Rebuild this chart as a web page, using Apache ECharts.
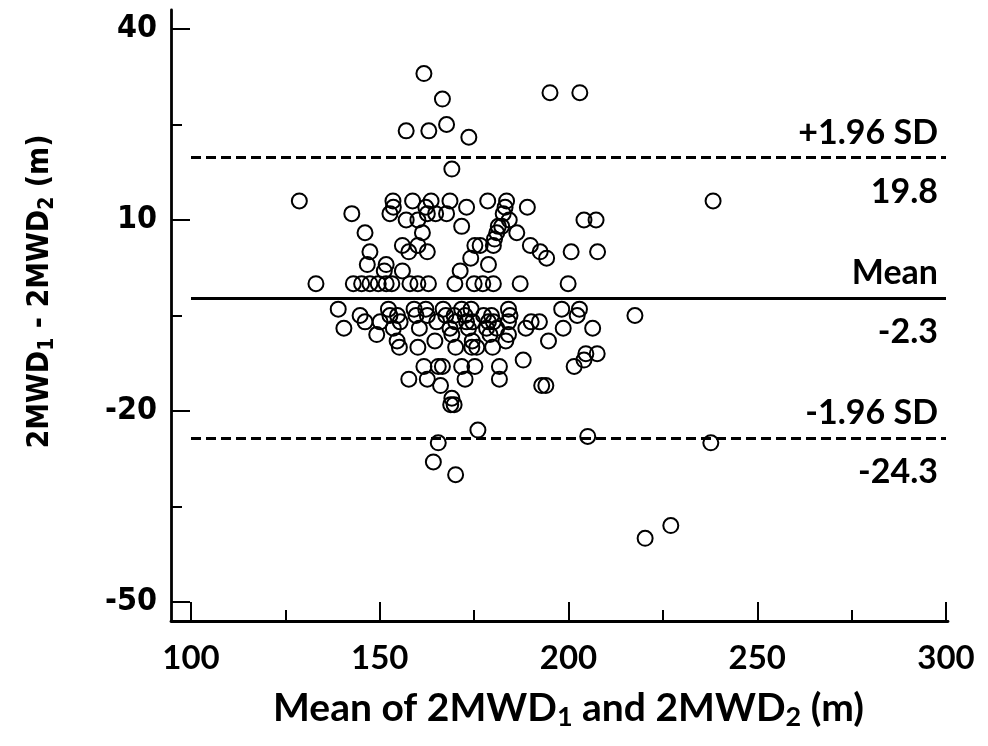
<!DOCTYPE html>
<html>
<head>
<meta charset="utf-8">
<script src="https://cdn.jsdelivr.net/npm/echarts@6/dist/echarts.min.js"></script>
<style>
html,body{margin:0;padding:0;background:#fff;}
#chart{width:988px;height:746px;}
</style>
</head>
<body>
<div id="chart"></div>
<script>
// Mean of the two walks (x) and their difference (y)
const meanVals = [
161.7,166.6,167.7,157.0,163.0,173.6,169.1,195.1,203.0,128.7,238.3,
153.5,158.7,163.6,168.6,173.0,153.6,152.7,162.2,162.6,164.8,167.7,142.6,157.0,160.1,171.7,
146.1,161.3,156.0,160.1,175.2,147.4,157.7,162.6,151.7,174.1,146.7,151.2,156.0,171.3,
178.6,183.6,183.2,182.7,189.1,184.3,182.3,181.4,186.3,181.0,180.4,204.1,207.3,180.1,176.6,
189.9,192.5,194.2,200.7,207.7,178.8,
133.1,143.0,145.2,147.4,149.6,151.7,153.2,158.0,160.1,162.9,169.9,175.0,177.3,180.1,187.2,199.9,
139.0,140.5,144.8,146.1,149.2,150.1,152.3,152.7,154.7,153.6,155.4,154.6,155.2,159.1,159.6,
162.2,162.6,160.5,160.1,165.1,164.6,166.8,167.5,169.7,168.6,170.1,169.1,171.7,174.2,172.6,
173.0,173.5,174.6,174.5,170.1,174.4,175.7,161.7,165.5,166.6,171.7,175.2,157.7,162.6,172.6,
166.1,169.1,168.8,169.7,176.0,165.5,164.2,170.1,177.5,179.6,178.8,180.1,178.3,181.0,179.2,
184.1,184.5,184.1,184.1,183.4,179.9,181.7,181.7,188.7,190.1,192.3,194.7,188.0,198.2,198.6,
202.9,202.3,206.4,217.6,204.6,207.6,204.1,201.5,192.9,194.0,205.1,237.7,220.3,227.1
];
const diffVals = [
33,29,25,24,24,23,18,30,30,13,13,
13,13,13,13,12,12,11,12,11,11,11,11,10,10,9,
8,8,6,6,6,5,5,5,3,4,3,2,2,2,
13,13,12,11,12,10,9,9,8,8,7,10,10,6,6,
6,5,4,5,5,3,
0,0,0,0,0,0,0,0,0,0,0,0,0,0,0,0,
-4,-7,-5,-6,-8,-6,-4,-5,-5,-7,-6,-9,-10,-4,-5,
-4,-5,-7,-10,-6,-9,-4,-5,-5,-7,-6,-8,-4,-4,-5,
-6,-7,-6,-9,-10,-10,-10,-13,-13,-13,-13,-13,-15,-15,-15,
-16,-18,-19,-19,-23,-25,-28,-30,-5,-5,-6,-6,-7,-7,-8,
-4,-5,-6,-8,-9,-10,-13,-15,-7,-6,-6,-9,-12,-4,-7,
-4,-5,-7,-5,-11,-11,-12,-13,-16,-16,-24,-25,-40,-38
];
// Bland-Altman reference lines
const lineNames = ['+1.96 SD', 'Mean', '-1.96 SD'];
const lineValues = [19.8, -2.3, -24.3];
// Axis ticks
const xTicks = [100, 150, 200, 250, 300];
const xMinorTicks = [125, 175, 225, 275];
const yTicks = [-50, -20, 10, 40];
const yMinorTicks = [-35, -5, 25];

const points = meanVals.map((m, i) => [m, diffVals[i]]);

const black = '#000';
const tickStyle = {color: black, width: 2};
const latoBold = {fontFamily: 'Lato', fontWeight: 'bold', color: black};
const condBold = {fontFamily: '"DejaVu Sans Condensed", "DejaVu Sans"', fontWeight: 'bold', color: black};

const lineStyles = [
  {type: [10, 5], width: 2.8, color: black},
  {type: 'solid', width: 3, color: black},
  {type: [10, 5], width: 2.8, color: black}
];
const markData = [];
lineValues.forEach((v, i) => {
  const ls = lineStyles[i];
  markData.push({yAxis: v, lineStyle: ls,
    label: {formatter: lineNames[i], position: 'insideEndTop', distance: [8, 8]}});
  markData.push({yAxis: v, lineStyle: ls,
    label: {formatter: String(v), position: 'insideEndBottom', distance: [8, 17]}});
});

const chart = echarts.init(document.getElementById('chart'), null, {renderer: 'canvas'});
chart.setOption({
  animation: false,
  backgroundColor: '#fff',
  grid: [
    {left: 191, right: 42, top: 29, bottom: 144},
    {left: 171, right: 40, top: 10, bottom: 125}
  ],
  xAxis: [
    {
      gridIndex: 0, type: 'value', min: 100, max: 300, position: 'bottom', offset: 19,
      axisLine: {show: false, onZero: false}, splitLine: {show: false},
      axisTick: {show: true, inside: true, length: 19, customValues: xTicks, lineStyle: tickStyle},
      axisLabel: Object.assign({customValues: xTicks, margin: 21, fontSize: 33}, latoBold),
      name: '{t|Mean of 2MWD}{s|1}{t| and 2MWD}{s|2}{t| (m)}',
      nameLocation: 'middle', nameGap: 64,
      nameTextStyle: {
        rich: {
          t: Object.assign({fontSize: 39, lineHeight: 46}, latoBold),
          s: Object.assign({fontSize: 27, lineHeight: 20, verticalAlign: 'bottom'}, latoBold)
        }
      }
    },
    {
      gridIndex: 0, type: 'value', min: 100, max: 300, position: 'bottom', offset: 19,
      axisLine: {show: false, onZero: false}, splitLine: {show: false},
      axisTick: {show: true, inside: true, length: 11, customValues: xMinorTicks, lineStyle: tickStyle},
      axisLabel: {show: false}
    },
    {
      gridIndex: 1, type: 'value', min: 0, max: 1, position: 'bottom',
      axisLine: {show: true, onZero: false, lineStyle: {color: black, width: 2.8}},
      axisTick: {show: false}, axisLabel: {show: false}, splitLine: {show: false}
    }
  ],
  yAxis: [
    {
      gridIndex: 0, type: 'value', min: -50, max: 40, position: 'left', offset: 20,
      axisLine: {show: false, onZero: false}, splitLine: {show: false},
      axisTick: {show: true, inside: true, length: 19, customValues: yTicks, lineStyle: tickStyle},
      axisLabel: Object.assign({customValues: yTicks, margin: 14, fontSize: 32}, condBold),
      name: '{t|2MWD}{s|1}{t| - 2MWD}{s|2}{t| (m)}',
      nameLocation: 'middle', nameRotate: 90, nameGap: 113,
      nameTextStyle: {
        padding: [0, 0, 0, 48],
        rich: {
          t: Object.assign({fontSize: 30, lineHeight: 36}, condBold),
          s: Object.assign({fontSize: 21, lineHeight: 15, verticalAlign: 'bottom'}, condBold)
        }
      }
    },
    {
      gridIndex: 0, type: 'value', min: -50, max: 40, position: 'left', offset: 20,
      axisLine: {show: false, onZero: false}, splitLine: {show: false},
      axisTick: {show: true, inside: true, length: 11, customValues: yMinorTicks, lineStyle: tickStyle},
      axisLabel: {show: false}
    },
    {
      gridIndex: 1, type: 'value', min: 0, max: 1, position: 'left',
      axisLine: {show: true, onZero: false, lineStyle: {color: black, width: 2.8}},
      axisTick: {show: false}, axisLabel: {show: false}, splitLine: {show: false}
    }
  ],
  series: [
    {
      type: 'scatter', xAxisIndex: 0, yAxisIndex: 0,
      data: points, symbol: 'circle', symbolSize: 15,
      itemStyle: {color: 'rgba(0,0,0,0)', borderColor: black, borderWidth: 2, opacity: 1},
      emphasis: {disabled: true},
      markLine: {
        silent: true, symbol: 'none', animation: false,
        label: Object.assign({show: true, fontSize: 34}, latoBold),
        emphasis: {disabled: true},
        data: markData
      }
    }
  ]
});
</script>
</body>
</html>
